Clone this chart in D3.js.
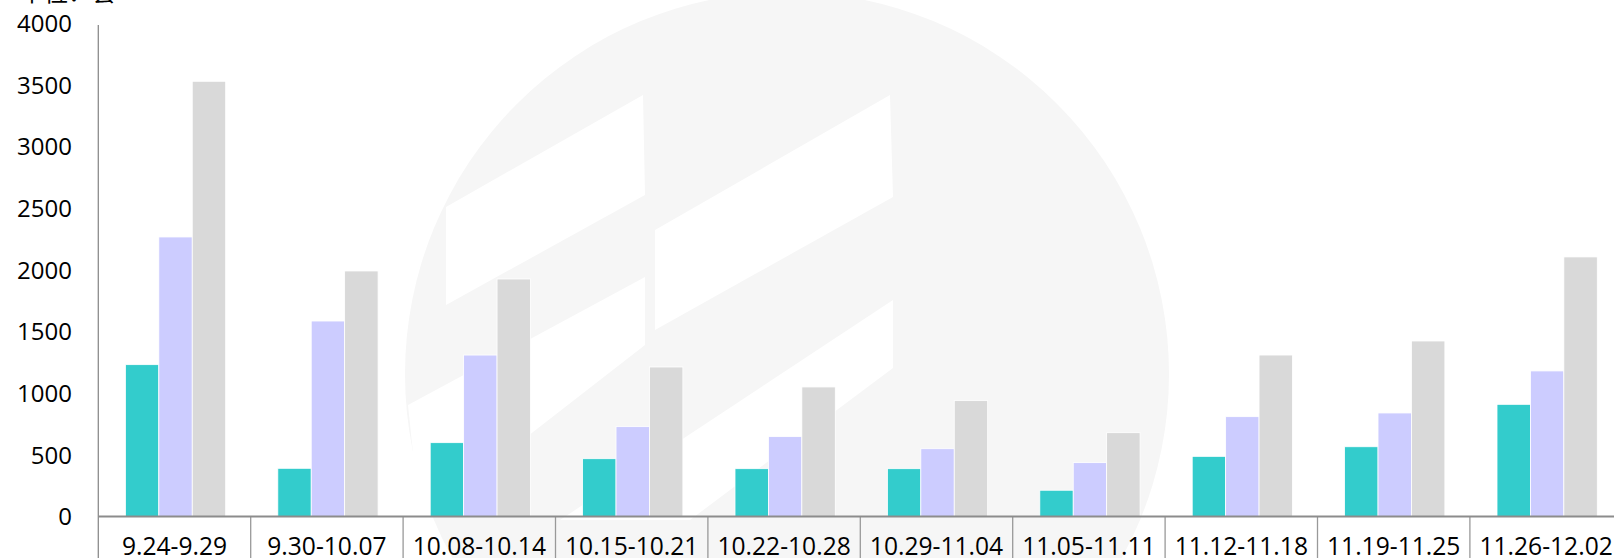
<!DOCTYPE html>
<html>
<head>
<meta charset="utf-8">
<script src="https://cdn.jsdelivr.net/npm/d3@7"></script>
<style>
  body { margin: 0; background: #fff; }
  svg { display: block; }
  .tick-label { font-family: "Open Sans", "Noto Sans", sans-serif; font-size: 24px; fill: #000; }
  .cat-label { font-family: "Open Sans", "Noto Sans", sans-serif; font-size: 24.6px; fill: #000; }
  .unit { font-family: "Noto Sans CJK SC", sans-serif; font-size: 24px; fill: #000; }
</style>
</head>
<body>
<div class="chart"></div>
<script>
// weeks on the x axis
const weeks = ['9.24-9.29', '9.30-10.07', '10.08-10.14', '10.15-10.21', '10.22-10.28',
               '10.29-11.04', '11.05-11.11', '11.12-11.18', '11.19-11.25', '11.26-12.02'];
const seriesKeys = ['s1', 's2', 's3'];
const s1 = [1232, 391, 599, 469, 388, 388, 213, 488, 566, 910];
const s2 = [2268, 1586, 1310, 729, 648, 550, 437, 810, 840, 1181];
const s3 = [3531, 1992, 1927, 1213, 1051, 940, 680, 1310, 1424, 2106];
const yTicks = [0, 500, 1000, 1500, 2000, 2500, 3000, 3500, 4000];
const unitLabel = '单位：套';

const colors = {s1: '#33cccc', s2: '#ccccff', s3: '#d9d9d9'};

const W = 1614, H = 558;
const margin = ({top: 23.5, left: 98.3, bottom: 41.5});
const cellW = 152.4;

const data = weeks.map((w, i) => ({week: w, s1: s1[i], s2: s2[i], s3: s3[i]}));

const svg = d3.select('.chart').append('svg')
    .attr('width', W)
    .attr('height', H);

// faint watermark in the background
const wm = svg.append('g');
wm.append('circle')
    .attr('cx', 787).attr('cy', 374).attr('r', 382)
    .attr('fill', '#f6f6f6');
const wmShapes = [
  [[446,207],[643,95],[645,195],[446,305]],
  [[655,230],[890,95],[893,197],[655,330]],
  [[408,405],[645,277],[645,345],[420,520]],
  [[560,520],[893,300],[893,368],[690,520]]
];
wm.selectAll('polygon').data(wmShapes).enter().append('polygon')
    .attr('points', d => d.map(p => p.join(',')).join(' '))
    .attr('fill', '#fff');

const x0 = d3.scaleBand()
    .domain(weeks)
    .range([margin.left, margin.left + cellW * weeks.length]);

const x1 = d3.scaleBand()
    .domain(seriesKeys)
    .range([0, x0.bandwidth()])
    .paddingOuter(0.78)
    .align(0.52);

// baseline sits at 516.5
const y = d3.scaleLinear()
    .domain([0, 4000])
    .range([516.5, margin.top]);

// bars
const groups = svg.append('g').selectAll('g')
    .data(data)
    .enter().append('g')
    .attr('transform', d => 'translate(' + x0(d.week) + ',0)');

groups.selectAll('rect')
    .data(d => seriesKeys.map(k => ({key: k, value: d[k]})))
    .enter().append('rect')
    .attr('x', d => x1(d.key))
    .attr('width', x1.bandwidth())
    .attr('y', d => y(d.value))
    .attr('height', d => y(0) - y(d.value))
    .attr('fill', d => colors[d.key])
    .attr('stroke', '#fff')
    .attr('stroke-width', 0.8);

// y tick labels
svg.append('g').selectAll('text')
    .data(yTicks)
    .enter().append('text')
    .attr('class', 'tick-label')
    .attr('x', 72)
    .attr('y', d => y(d))
    .attr('dy', '0.36em')
    .attr('text-anchor', 'end')
    .text(d => d);

// unit label (cut off at the top)
svg.append('text')
    .attr('class', 'unit')
    .attr('x', 20)
    .attr('y', 0.5)
    .text(unitLabel);

// y axis line
svg.append('line')
    .attr('x1', margin.left).attr('x2', margin.left)
    .attr('y1', 25).attr('y2', H)
    .attr('stroke', '#8c8c8c')
    .attr('stroke-width', 1.3);

// category table dividers
svg.append('g').selectAll('line')
    .data(weeks.slice(1))
    .enter().append('line')
    .attr('x1', d => x0(d)).attr('x2', d => x0(d))
    .attr('y1', y(0)).attr('y2', H)
    .attr('stroke', '#999')
    .attr('stroke-width', 1.3);

// baseline
svg.append('line')
    .attr('x1', margin.left).attr('x2', W)
    .attr('y1', y(0)).attr('y2', y(0))
    .attr('stroke', '#8c8c8c')
    .attr('stroke-width', 2);

// category labels
svg.append('g').selectAll('text')
    .data(weeks)
    .enter().append('text')
    .attr('class', 'cat-label')
    .attr('x', d => x0(d) + x0.bandwidth() / 2)
    .attr('y', 555)
    .attr('text-anchor', 'middle')
    .text(d => d);
</script>
</body>
</html>
